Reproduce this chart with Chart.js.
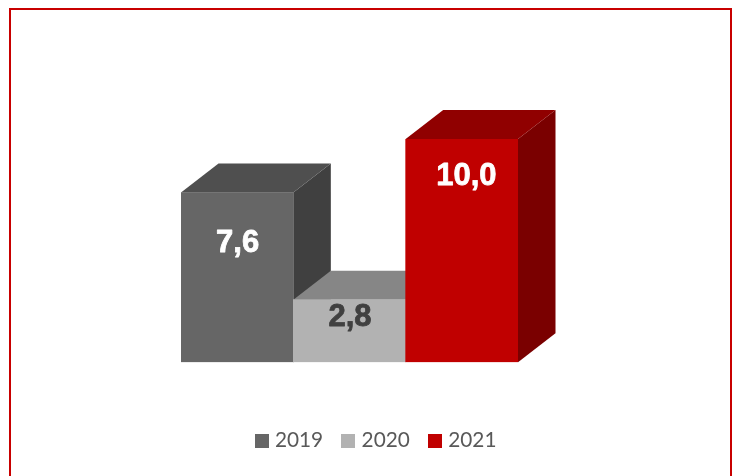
<!DOCTYPE html>
<html>
<head>
<meta charset="utf-8">
<title>2019 - 2021</title>
<script src="https://cdn.jsdelivr.net/npm/chart.js@4"></script>
<style>
    html, body { margin: 0; padding: 0; background: #fff; overflow: hidden; }
    #wrap { position: relative; width: 736px; height: 476px; overflow: hidden; }
    #frame { position: absolute; left: 9px; top: 8px; width: 719px; height: 500px; border: 2px solid #c80000; }
    canvas { position: absolute; left: 0; top: 0; }
</style>
</head>
<body>
<div id="wrap">
    <div id="frame"></div>
    <canvas id="barChart" width="736" height="476"></canvas>
</div>
<script>
const years = ['2019', '2020', '2021'];
const values = [7.6, 2.8, 10.0];
const frontColors = ['#666666', '#b2b2b2', '#c00000'];
const topColors = ['#4f4f4f', '#868686', '#900000'];
const sideColors = ['#404040', '#5a5a5a', '#7a0000'];
const labelColors = ['#ffffff', '#404040', '#ffffff'];

// Square legend swatch, wider than the box so the text sits close to it
function swatch(color) {
    const c = document.createElement('canvas');
    c.width = 14;
    c.height = 14;
    const g = c.getContext('2d');
    g.fillStyle = color;
    g.fillRect(0, 0, 14, 14);
    return c;
}

// --- Extruded top and side faces, painted behind the bars ---
const extrude = {
    id: 'extrude',
    beforeDatasetsDraw(chart, args, opts) {
        const ctx = chart.ctx;
        const base = chart.scales.y.getPixelForValue(0);
        const poly = (pts, color) => {
            ctx.fillStyle = color;
            ctx.beginPath();
            pts.forEach((p, i) => i ? ctx.lineTo(p[0], p[1]) : ctx.moveTo(p[0], p[1]));
            ctx.closePath();
            ctx.fill();
        };
        chart.getDatasetMeta(0).data.forEach((bar, i) => {
            const left = bar.x - bar.width / 2;
            const right = bar.x + bar.width / 2;
            poly([[right, base], [right + opts.dx, base - opts.dy], [right + opts.dx, bar.y - opts.dy], [right, bar.y]], sideColors[i]);
            poly([[left, bar.y], [left + opts.dx, bar.y - opts.dy], [right + opts.dx, bar.y - opts.dy], [right, bar.y]], topColors[i]);
        });
    }
};

// --- Value labels with a decimal comma, thickened with a thin stroke ---
const valueLabels = {
    id: 'valueLabels',
    afterDatasetsDraw(chart, args, opts) {
        const ctx = chart.ctx;
        ctx.save();
        ctx.font = 'bold 31px "Liberation Sans", Arial, sans-serif';
        ctx.textAlign = 'center';
        ctx.textBaseline = 'middle';
        ctx.lineWidth = 0.8;
        ctx.lineJoin = 'round';
        chart.getDatasetMeta(0).data.forEach((bar, i) => {
            const text = values[i].toFixed(1).replace('.', ',');
            ctx.fillStyle = labelColors[i];
            ctx.strokeStyle = labelColors[i];
            ctx.fillText(text, bar.x + opts.shift[i], bar.y + opts.drop[i]);
            ctx.strokeText(text, bar.x + opts.shift[i], bar.y + opts.drop[i]);
        });
        ctx.restore();
    }
};

// Legend is centred under the page, not under the bars
const legendShift = {
    id: 'legendShift',
    afterLayout(chart, args, opts) {
        chart.legend.left += opts.x;
        chart.legend.right += opts.x;
        chart.legend.top += opts.y;
        chart.legend.bottom += opts.y;
    }
};

new Chart(document.getElementById('barChart'), {
    type: 'bar',
    data: {
        labels: years,
        datasets: [{
            data: values,
            backgroundColor: frontColors,
            borderWidth: 0,
            categoryPercentage: 1,
            barPercentage: 1
        }]
    },
    plugins: [extrude, valueLabels, legendShift],
    options: {
        responsive: false,
        animation: false,
        layout: { padding: { left: 181, right: 218, top: 139, bottom: 61 } },
        scales: {
            x: { display: false },
            y: { display: false, min: 0, max: 10 }
        },
        plugins: {
            tooltip: { enabled: false },
            extrude: { dx: 37.5, dy: 29 },
            valueLabels: { drop: [51, 18, 37], shift: [0.5, 0.5, 4.5] },
            legendShift: { x: 28, y: 46 },
            legend: {
                position: 'bottom',
                labels: {
                    usePointStyle: true,
                    pointStyleWidth: 6,
                    boxHeight: 14,
                    padding: 22,
                    color: '#595959',
                    font: { family: 'Lato', size: 20.8 },
                    generateLabels: () => years.map((y, i) => ({
                        text: y,
                        pointStyle: swatch(frontColors[i]),
                        fontColor: '#595959',
                        lineWidth: 0,
                        hidden: false,
                        datasetIndex: 0,
                        index: i
                    }))
                }
            }
        }
    }
});
</script>
</body>
</html>
